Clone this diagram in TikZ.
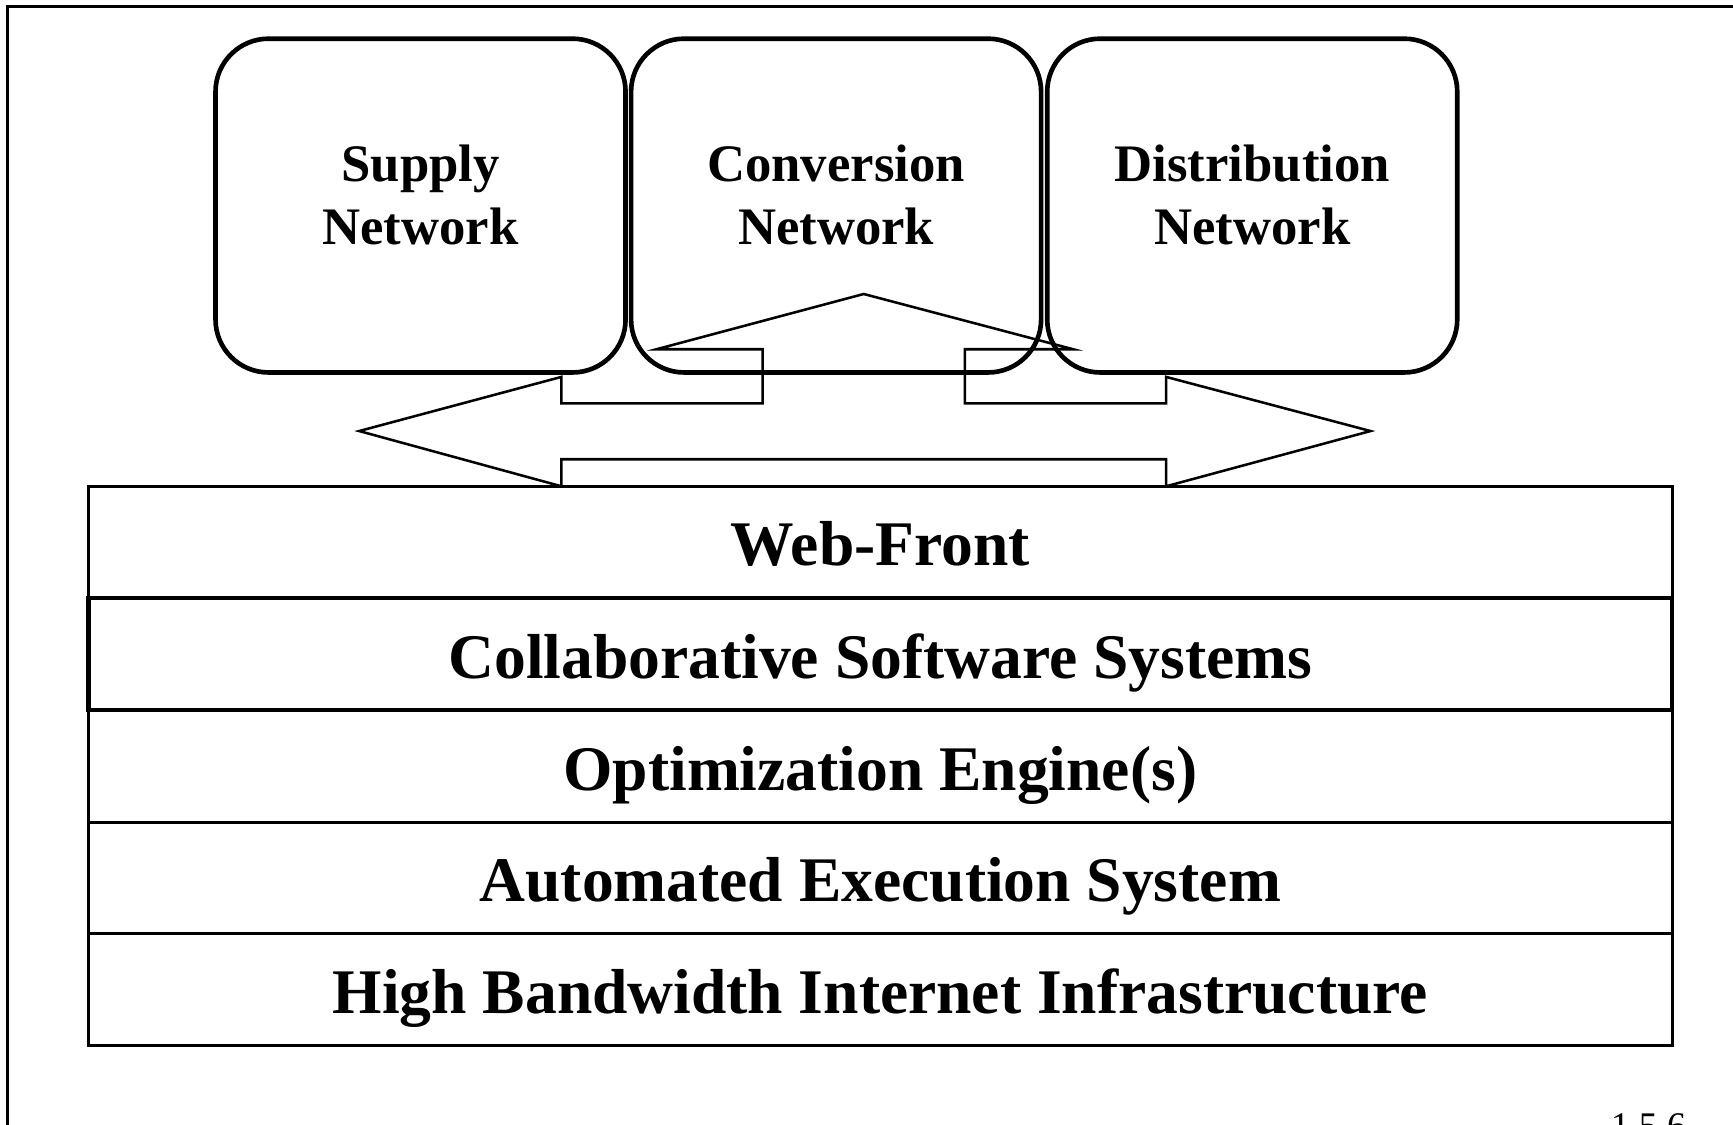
\documentclass[tikz,border=0pt]{standalone}
\usepackage{fontspec}
\setmainfont{Liberation Serif}
\begin{document}
\begin{tikzpicture}[x=0.5pt,y=-0.5pt,
  netbox/.style={draw, line width=2.1pt, rounded corners=24pt, minimum width=185.5pt, minimum height=151pt, inner sep=0pt},
  boxtext/.style={font=\bfseries\fontsize{23.85}{28}\selectfont, anchor=base, inner sep=0pt},
  layer/.style={draw, line width=1.25pt, minimum width=716.5pt, minimum height=50.6pt, inner sep=0pt, text height=21.5pt, text depth=0pt, font=\bfseries\fontsize{28.75}{34}\selectfont},
  thicklayer/.style={layer, line width=1.9pt},
  arrowshape/.style={draw, line width=1.15pt, line join=miter},
  frame/.style={draw, line width=1.4pt}]
\useasboundingbox (0,0) rectangle (1568,1017);
\clip (0,0) rectangle (1568,1017);
% outer frame (right and bottom edges lie outside the picture)
\coordinate (fbl) at (7,1040);
\coordinate (ftl) at (7,6);
\coordinate (ftr) at (1600,6);
\draw[frame] (fbl) -- (ftl) -- (ftr);
% three-way arrow
\draw[arrowshape] (325,390) -- (508,341) -- (508,365) -- (690,365) -- (690,316) -- (594,316)
  -- (781.5,266) -- (971,316) -- (873,316) -- (873,365) -- (1055,365) -- (1055,341)
  -- (1240,390) -- (1055,440) -- (1055,415.5) -- (508,415.5) -- (508,440) -- cycle;
% network boxes
\node[netbox] (supply) at (380.5,186) {};
\node[netbox] (conv) at (756.5,186) {};
\node[netbox] (dist) at (1133,186) {};
\node[boxtext] (supplyA) at (380.5,164) {Supply};
\node[boxtext] (supplyB) at (380.5,221) {Network};
\node[boxtext] (convA) at (756.5,164) {Conversion};
\node[boxtext] (convB) at (756.5,221) {Network};
\node[boxtext] (distA) at (1133,164) {Distribution};
\node[boxtext] (distB) at (1133,221) {Network};
% layers
\node[layer] (web) at (796.5,490.5) {Web-Front};
\node[layer] (opt) at (796.5,693.5) {Optimization Engine(s)};
\node[layer] (auto) at (796.5,794.5) {Automated Execution System};
\node[layer] (high) at (796.5,895.5) {High Bandwidth Internet Infrastructure};
\node[thicklayer] (collab) at (796.5,592) {Collaborative Software Systems};
% page number (cut off at the bottom edge, as in the reference)
\node[anchor=base west, inner sep=0pt, font=\fontsize{17}{20}\selectfont] (pg) at (1457,1030) {1.5.6};
\end{tikzpicture}
\end{document}
